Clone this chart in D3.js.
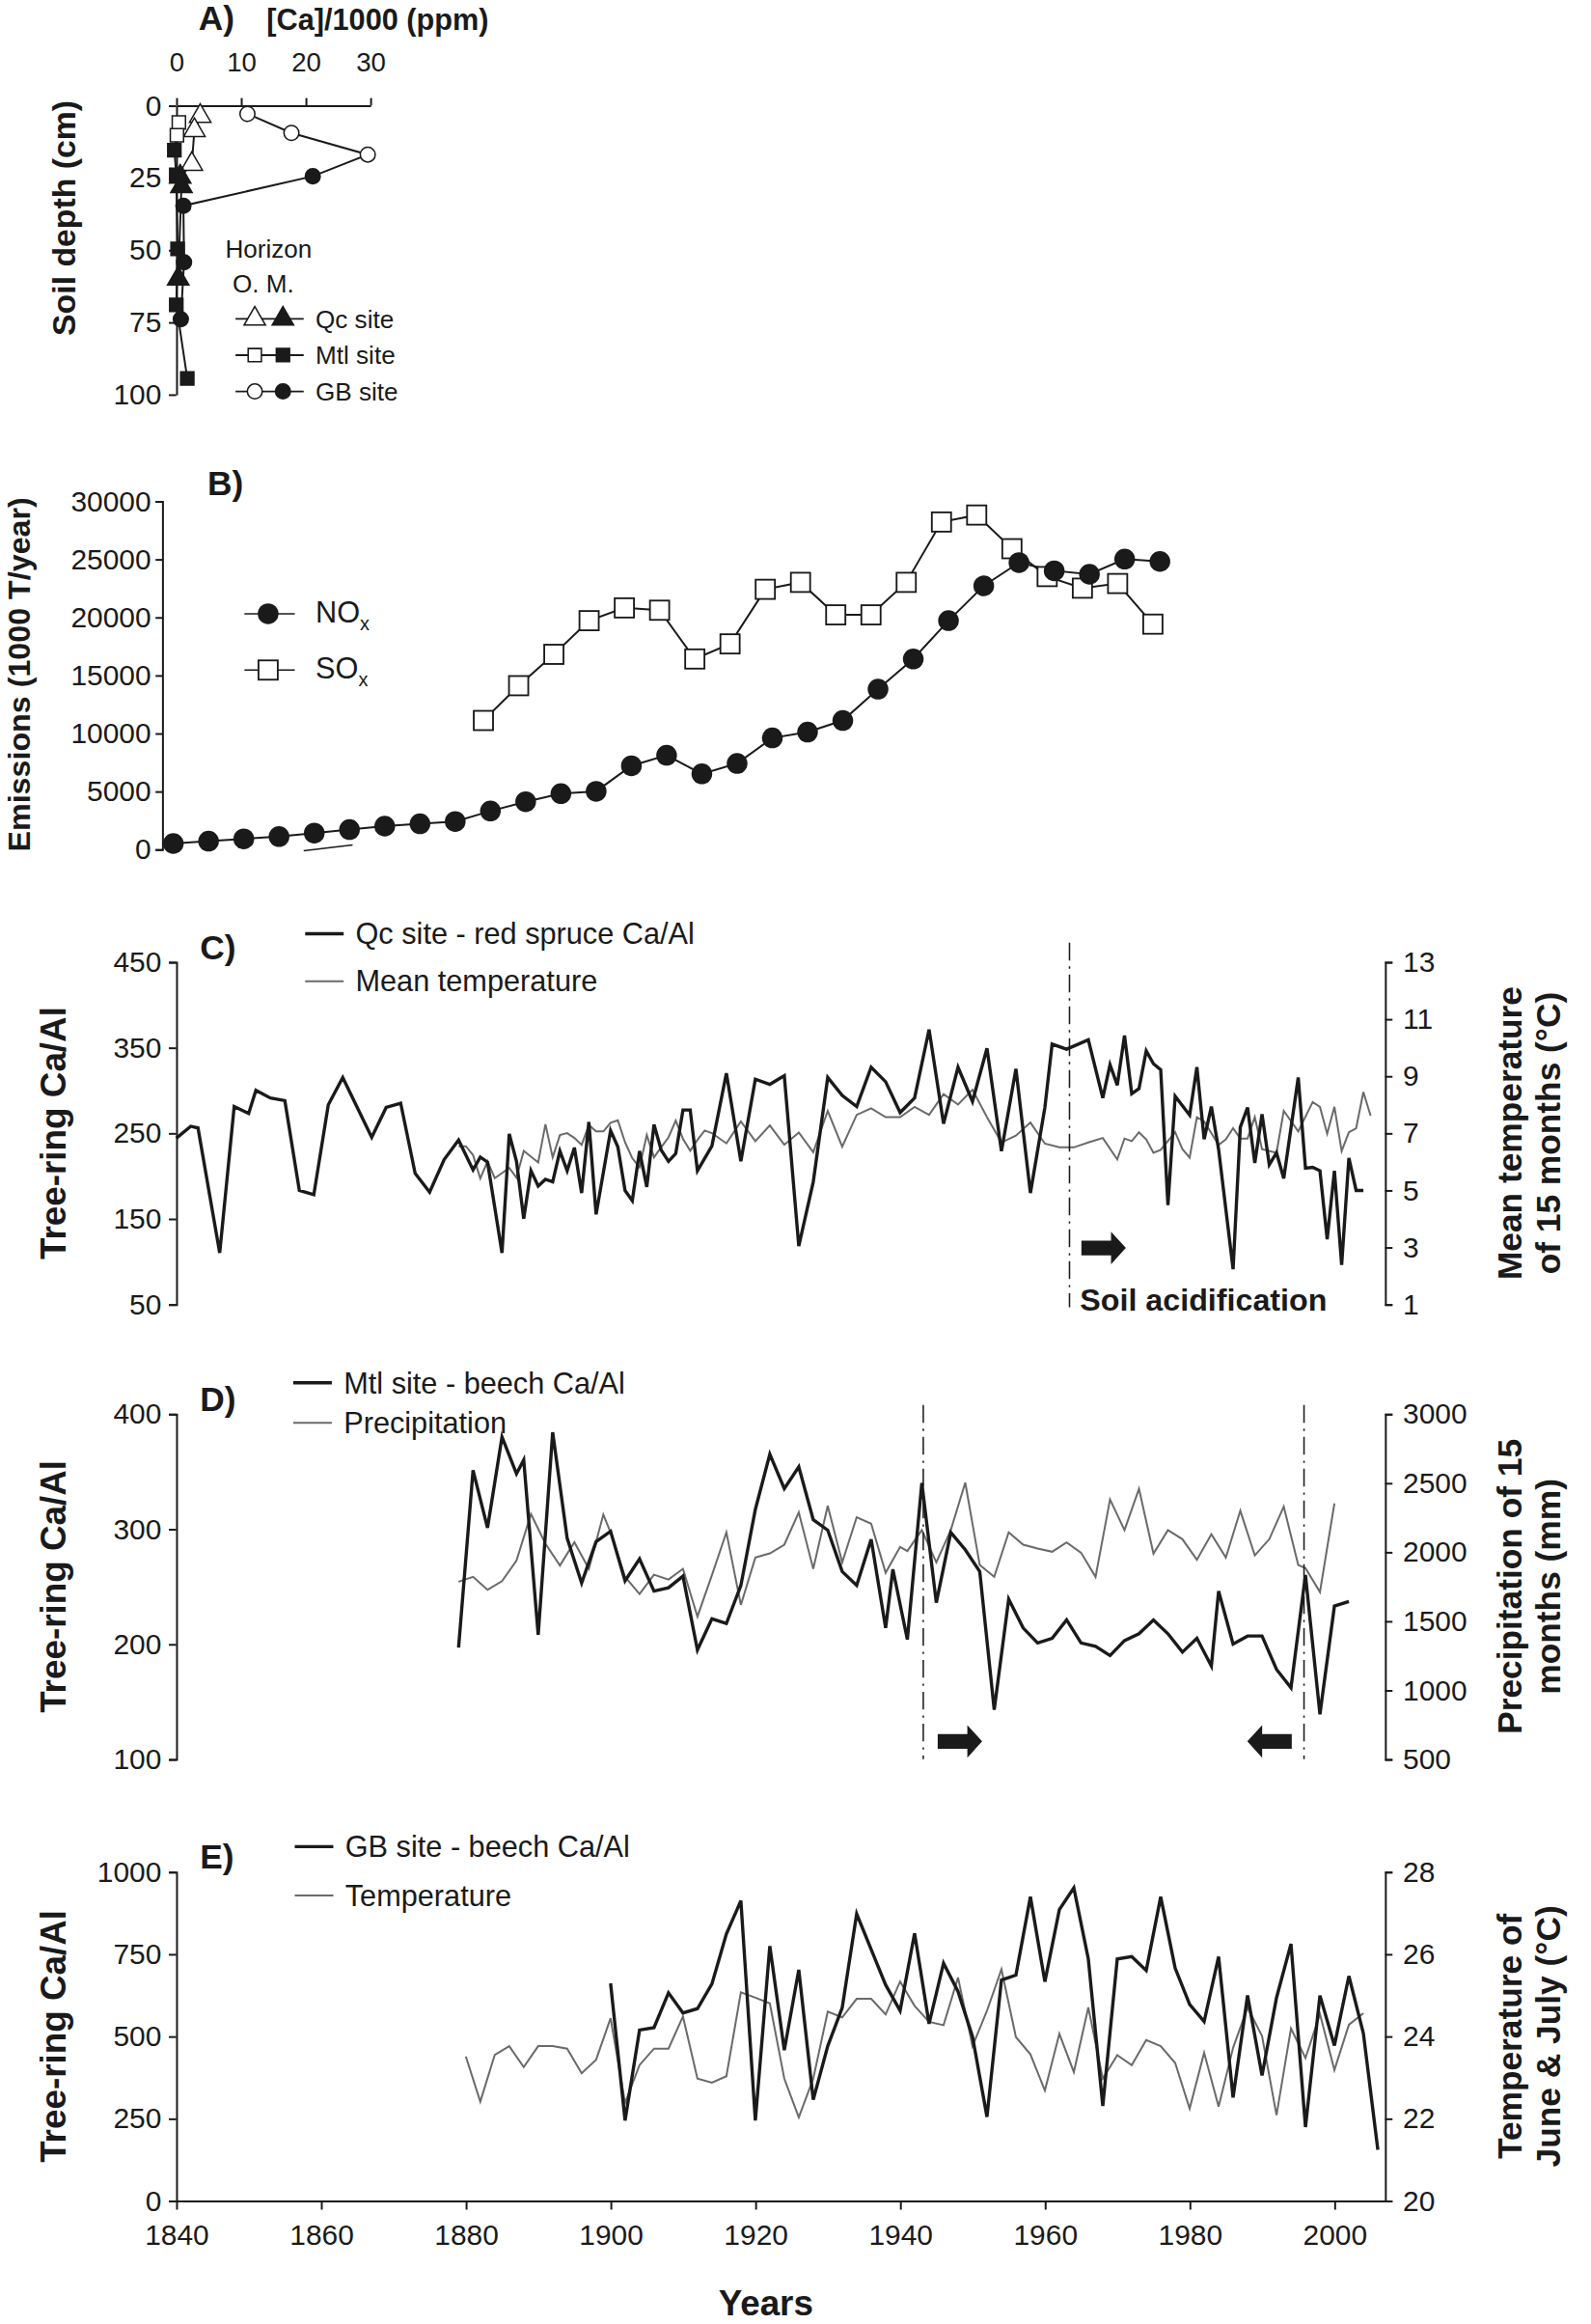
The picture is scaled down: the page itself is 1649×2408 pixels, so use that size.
<!DOCTYPE html>
<html>
<head>
<meta charset="utf-8">
<script src="https://cdn.jsdelivr.net/npm/d3@7"></script>
<style>
  body { margin: 0; background: #fff; }
  svg { font-family: "Liberation Sans", Arial, sans-serif; }
</style>
</head>
<body>
<div id="chart"></div>
<script>
// ---- panel A : soil Ca profiles [ [Ca/1000 ppm, depth cm], ... ]
var qcOpen = [[3.7, 3.7], [2.8, 8.6], [2.4, 20.3]];
var qcFilled = [[0.6, 24.7], [0.8, 28], [0.3, 60]];
var mtlOpen = [[0.4, 5.9], [0.1, 10.3]];
var mtlFilled = [[-0.3, 15.5], [0, 24], [0.2, 49.6], [0, 69], [1.7, 94.5]];
var gbOpen = [[11, 2.9], [17.8, 9.5], [29.6, 17]];
var gbFilled = [[21.1, 24.5], [1.1, 34.7], [1.2, 54.3], [0.7, 74]];
var caTicks = [0, 10, 20, 30];
var depthTicks = [0, 25, 50, 75, 100];

// ---- panel B : emissions (1000 T/year)
var noxYears = d3.range(1840, 1981, 5);
var noxValues = [500, 700, 900, 1100, 1400, 1700, 2000, 2200, 2400, 3300, 4100, 4800, 5000, 7200, 8100,
  6500, 7400, 9600, 10100, 11100, 13800, 16400, 19700, 22700, 24700, 24000, 23700, 25000, 24800];
var soxYears = d3.range(1884, 1980, 5);
var soxValues = [11100, 14100, 16800, 19700, 20800, 20600, 16400, 17700, 22400, 23000, 20200, 20200,
  23000, 28200, 28800, 25900, 23500, 22500, 22900, 19400];
var emissionTicks = [0, 5000, 10000, 15000, 20000, 25000, 30000];

// ---- panel C : Qc site red spruce Ca/Al and mean temperature of 15 months
var qcYears = [1840, 1842, 1843, 1846, 1848, 1850, 1851, 1853, 1855, 1857, 1859, 1861, 1863, 1865, 1867, 1869,
  1871, 1873, 1875, 1877, 1879, 1881, 1882, 1883, 1885, 1886, 1887, 1888, 1889, 1890, 1891, 1892, 1893, 1894,
  1895, 1896, 1897, 1898, 1900, 1901, 1902, 1903, 1904, 1905, 1906, 1907, 1908, 1909, 1910, 1911, 1912, 1914,
  1916, 1918, 1920, 1922, 1924, 1926, 1928, 1930, 1932, 1934, 1936, 1938, 1940, 1942, 1944, 1946, 1948, 1950,
  1952, 1954, 1956, 1958, 1960, 1961, 1963, 1966, 1968, 1969, 1970, 1971, 1972, 1973, 1974, 1975, 1976, 1977,
  1978, 1980, 1981, 1982, 1983, 1984, 1986, 1987, 1988, 1989, 1990, 1991, 1992, 1993, 1995, 1996, 1997, 1998,
  1999, 2000, 2001, 2002, 2003, 2004];
var qcCaAl = [244, 258, 256, 110, 281, 273, 300, 291, 288, 183, 178, 283, 315, 280, 245, 280,
  285, 203, 181, 219, 242, 207, 222, 216, 110, 249, 217, 150, 206, 188, 196, 193, 229, 206,
  233, 180, 263, 155, 253, 234, 183, 171, 229, 187, 260, 230, 217, 226, 277, 277, 206, 235,
  320, 217, 313, 307, 317, 118, 193, 315, 294, 281, 327, 310, 274, 291, 371, 261, 327, 287,
  349, 229, 325, 180, 280, 354, 348, 359, 291, 330, 306, 364, 296, 302, 346, 331, 324, 166,
  293, 271, 327, 243, 281, 231, 91, 257, 280, 215, 272, 213, 227, 197, 315, 209, 210, 206,
  126, 206, 96, 221, 183, 183, 286];
var qcTempYears = [1879, 1880, 1881, 1882, 1883, 1884, 1886, 1887, 1888, 1890, 1891, 1892, 1893, 1894, 1895,
  1896, 1897, 1898, 1899, 1900, 1901, 1902, 1903, 1904, 1905, 1906, 1907, 1908, 1909, 1910, 1911, 1912, 1913,
  1914, 1916, 1918, 1920, 1922, 1924, 1926, 1928, 1930, 1932, 1934, 1936, 1938, 1940, 1942, 1944, 1946, 1948,
  1950, 1952, 1954, 1956, 1958, 1960, 1962, 1964, 1966, 1968, 1970, 1971, 1972, 1973, 1974, 1975, 1976, 1978,
  1979, 1980, 1981, 1982, 1984, 1985, 1986, 1987, 1988, 1989, 1990, 1992, 1993, 1995, 1997, 1998, 1999, 2000,
  2001, 2002, 2003, 2004, 2005];
var qcTemp = [6.54, 6.54, 6.23, 5.41, 6.01, 5.42, 5.78, 5.44, 6.38, 5.97, 7.31, 6.15, 6.93, 7.0, 6.83,
  6.59, 7.28, 7.06, 7.06, 7.36, 7.45, 6.68, 6.12, 5.80, 6.93, 6.15, 6.51, 6.85, 7.44, 6.80, 6.38, 6.76, 7.09,
  7.0, 6.64, 7.41, 6.72, 7.27, 6.59, 7.02, 6.33, 7.78, 6.52, 7.64, 7.87, 7.56, 7.56, 7.92, 7.64, 8.37, 8.0,
  8.52, 7.56, 6.67, 6.91, 7.37, 6.63, 6.5, 6.5, 6.67, 6.83, 6.08, 6.81, 6.72, 7.03, 6.78, 6.31, 6.41, 7.03,
  6.44, 6.14, 7.56, 7.41, 6.59, 6.78, 7.17, 6.81, 6.81, 7.56, 6.44, 6.31, 7.78, 7.06, 8.09, 7.92, 6.98, 7.92,
  6.37, 7.03, 7.17, 8.44, 7.61];

// ---- panel D : Mtl site beech Ca/Al and precipitation of 15 months
var mtlYears = [1879, 1881, 1883, 1885, 1887, 1888, 1890, 1892, 1894, 1896, 1898, 1900, 1902, 1904, 1906,
  1908, 1910, 1912, 1914, 1916, 1918, 1920, 1922, 1924, 1926, 1928, 1930, 1932, 1934, 1936, 1938, 1939, 1941,
  1943, 1945, 1947, 1949, 1951, 1953, 1955, 1957, 1959, 1961, 1963, 1965, 1967, 1969, 1971, 1973, 1975, 1977,
  1979, 1981, 1983, 1984, 1986, 1988, 1990, 1992, 1994, 1996, 1998, 2000, 2002];
var mtlCaAl = [197, 351, 301, 380, 348, 360, 208, 384, 292, 253, 289, 298, 255, 274, 246,
  249, 259, 195, 222, 218, 251, 317, 365, 335, 354, 308, 299, 263, 251, 291, 214, 265, 204,
  340, 236, 297, 282, 263, 143, 239, 214, 201, 205, 221, 201, 198, 190, 203, 209, 221, 209,
  193, 205, 181, 246, 200, 207, 207, 178, 162, 260, 139, 233, 237];
var precipYears = [1879, 1881, 1883, 1885, 1887, 1889, 1891, 1893, 1895, 1897, 1899, 1900, 1902, 1904, 1906,
  1908, 1910, 1912, 1914, 1916, 1918, 1920, 1922, 1924, 1926, 1928, 1930, 1932, 1934, 1936, 1938, 1940, 1941,
  1943, 1945, 1947, 1949, 1951, 1953, 1955, 1957, 1959, 1961, 1963, 1965, 1967, 1969, 1971, 1973, 1975, 1977,
  1979, 1981, 1983, 1985, 1987, 1989, 1991, 1993, 1995, 1996, 1998, 2000];
var precip = [1785, 1820, 1726, 1789, 1937, 2275, 2060, 1902, 2070, 1878, 2271, 2142, 1820, 1696, 1836,
  1801, 1878, 1533, 1832, 2142, 1617, 1960, 1990, 2053, 2287, 1878, 2334, 1925, 2252, 2205, 1850, 2037, 2007,
  2159, 1925, 2159, 2502, 1906, 1820, 2142, 2053, 2025, 2002, 2070, 1995, 1820, 2381, 2159, 2458, 1988, 2159,
  2093, 1944, 2128, 1960, 2299, 1976, 2093, 2329, 1906, 1883, 1710, 2352];

// ---- panel E : GB site beech Ca/Al and temperature of June & July
var gbYears = [1900, 1902, 1904, 1906, 1908, 1910, 1912, 1914, 1916, 1918, 1920, 1922, 1924, 1926, 1928,
  1930, 1932, 1934, 1936, 1938, 1940, 1942, 1944, 1946, 1948, 1950, 1952, 1954, 1956, 1958, 1960, 1962, 1964,
  1966, 1968, 1970, 1972, 1974, 1976, 1978, 1980, 1982, 1984, 1986, 1988, 1990, 1992, 1994, 1996, 1998, 2000,
  2002, 2004, 2006];
var gbCaAl = [661, 244, 519, 526, 632, 571, 584, 659, 811, 912, 244, 774, 458, 702, 307,
  470, 587, 872, 764, 656, 578, 813, 538, 722, 636, 499, 255, 671, 686, 924, 666, 885, 951,
  735, 288, 735, 742, 700, 924, 707, 597, 545, 742, 314, 624, 381, 617, 781, 224, 624, 472,
  683, 509, 155];
var gbTempYears = [1880, 1882, 1884, 1886, 1888, 1890, 1892, 1894, 1896, 1898, 1900, 1902, 1904, 1906, 1908,
  1910, 1912, 1914, 1916, 1918, 1920, 1922, 1924, 1926, 1928, 1930, 1932, 1934, 1936, 1938, 1940, 1942, 1944,
  1946, 1948, 1950, 1952, 1954, 1956, 1958, 1960, 1962, 1964, 1966, 1968, 1970, 1972, 1974, 1976, 1978, 1980,
  1982, 1984, 1986, 1988, 1990, 1992, 1994, 1996, 1998, 2000, 2002, 2004];
var gbTemp = [23.51, 22.41, 23.55, 23.76, 23.25, 23.76, 23.76, 23.70, 23.10, 23.43, 24.44, 22.38, 23.30, 23.70, 23.70,
  24.48, 22.97, 22.87, 23.03, 25.07, 24.94, 24.80, 22.97, 22.03, 22.97, 24.60, 24.46, 24.91, 24.91, 24.53, 25.33,
  24.74, 24.35, 24.27, 25.43, 23.76, 24.62, 25.63, 23.98, 23.56, 22.68, 24.06, 23.13, 24.70, 22.97, 23.54, 23.30,
  23.91, 23.76, 23.35, 22.24, 23.60, 22.29, 23.72, 24.70, 24.01, 22.08, 24.19, 23.47, 24.54, 23.18, 24.28, 24.56];
var yearTicks = [1840, 1860, 1880, 1900, 1920, 1940, 1960, 1980, 2000];

var W = 1074, H = 1568;
var svg = d3.select("#chart").append("svg")
  .attr("width", 1649).attr("height", 2408)
  .attr("viewBox", "0 0 " + W + " " + H);

var black = "#1a1a1a", gray = "#6a6a6a";
var tickFont = 19.5;

function zip(xs, ys) { return xs.map(function(x, i) { return [x, ys[i]]; }); }

function styleAxis(g, size) {
  g.selectAll("path, line").attr("stroke", black).attr("stroke-width", 1.3);
  g.selectAll("text").attr("font-size", size || tickFont).attr("fill", black)
    .attr("font-family", "Liberation Sans, Arial, sans-serif");
}

function rotText(x, y, lines, size) {
  var t = svg.append("text").attr("transform", "translate(" + x + "," + y + ") rotate(-90)")
    .attr("text-anchor", "middle").attr("font-weight", "bold").attr("font-size", size || 22).attr("fill", black);
  lines.forEach(function(s, i) {
    t.append("tspan").attr("x", 0).attr("dy", i === 0 ? 0 : "1.15em").text(s);
  });
}

function label(x, y, s, opts) {
  opts = opts || {};
  return svg.append("text").attr("x", x).attr("y", y).text(s)
    .attr("font-size", opts.size || 20).attr("font-weight", opts.bold ? "bold" : "normal")
    .attr("fill", black).attr("text-anchor", opts.anchor || "start");
}

// =================== A ===================
var ax = d3.scaleLinear().domain([0, 30]).range([119, 250]);
var ay = d3.scaleLinear().domain([0, 100]).range([71, 266]);
var gA = svg.append("g");
gA.append("g").attr("transform", "translate(0,71)")
  .call(d3.axisTop(ax).tickValues(caTicks).tickSize(5).tickSizeOuter(0)).call(styleAxis, 18)
  .selectAll("text").attr("dy", "-0.5em").attr("y", -14);
gA.append("g").attr("transform", "translate(119,0)")
  .call(d3.axisLeft(ay).tickValues(depthTicks).tickSize(5).tickSizeOuter(0)).call(styleAxis)
  .selectAll("text").attr("x", -10);
label(134, 20, "A)", {bold: true, size: 23});
label(180, 20, "[Ca]/1000 (ppm)", {bold: true, size: 20});
rotText(51, 147, ["Soil depth (cm)"], 22);

var aLine = d3.line().x(function(d) { return ax(d[0]); }).y(function(d) { return ay(d[1]); });
function profile(open, filled, shape) {
  gA.append("path").datum(open.concat(filled)).attr("d", aLine)
    .attr("fill", "none").attr("stroke", black).attr("stroke-width", 1.3);
  var sym = d3.symbol().type(shape).size(shape === d3.symbolTriangle ? 90 : 80);
  gA.selectAll(null).data(open.map(function(d) { return [d, "#fff"]; })
      .concat(filled.map(function(d) { return [d, black]; })))
    .enter().append("path")
    .attr("transform", function(d) { return "translate(" + ax(d[0][0]) + "," + ay(d[0][1]) + ")"; })
    .attr("d", sym).attr("fill", function(d) { return d[1]; })
    .attr("stroke", black).attr("stroke-width", 1);
}
profile(qcOpen, qcFilled, d3.symbolTriangle);
profile(mtlOpen, mtlFilled, d3.symbolSquare);
profile(gbOpen, gbFilled, d3.symbolCircle);

label(152, 174, "Horizon", {size: 17});
label(157, 197, "O. M.", {size: 17});
[["Qc site", d3.symbolTriangle, 90], ["Mtl site", d3.symbolSquare, 80], ["GB site", d3.symbolCircle, 80]]
  .forEach(function(r, i) {
    var y = 215 + i * 24.5;
    svg.append("line").attr("x1", 159).attr("x2", 205).attr("y1", y).attr("y2", y)
      .attr("stroke", black).attr("stroke-width", 1.2);
    [[172, "#fff"], [191, black]].forEach(function(p) {
      svg.append("path").attr("transform", "translate(" + p[0] + "," + y + ")")
        .attr("d", d3.symbol().type(r[1]).size(r[2])).attr("fill", p[1]).attr("stroke", black);
    });
    label(213, y + 6, r[0], {size: 17});
  });

// =================== B ===================
var bx = d3.scaleLinear().domain([1840, 1980]).range([117, 783]);
var by = d3.scaleLinear().domain([0, 30000]).range([573, 338]);
svg.append("g").attr("transform", "translate(110,0)")
  .call(d3.axisLeft(by).tickValues(emissionTicks).tickFormat(d3.format("d")).tickSize(5).tickSizeOuter(0))
  .call(styleAxis).select(".domain").attr("d", "M-5,573.5H0V338.5H-5");
svg.append("line").attr("x1", 205).attr("x2", 238).attr("y1", 574).attr("y2", 570)
  .attr("stroke", black).attr("stroke-width", 1);
label(140, 334, "B)", {bold: true, size: 23});
rotText(20, 455, ["Emissions (1000 T/year)"], 21);
var bLine = d3.line().x(function(d) { return bx(d[0]); }).y(function(d) { return by(d[1]); });
var soxData = zip(soxYears, soxValues), noxData = zip(noxYears, noxValues);
svg.append("path").datum(soxData).attr("d", bLine).attr("fill", "none").attr("stroke", black).attr("stroke-width", 1.3);
svg.append("path").datum(noxData).attr("d", bLine).attr("fill", "none").attr("stroke", black).attr("stroke-width", 1.3);
svg.selectAll(".sox").data(soxData).enter().append("rect")
  .attr("x", function(d) { return bx(d[0]) - 6.5; }).attr("y", function(d) { return by(d[1]) - 6.5; })
  .attr("width", 13).attr("height", 13).attr("fill", "#fff").attr("stroke", black).attr("stroke-width", 1.2);
svg.selectAll(".nox").data(noxData).enter().append("circle")
  .attr("cx", function(d) { return bx(d[0]); }).attr("cy", function(d) { return by(d[1]); })
  .attr("r", 7).attr("fill", black);
// legend B
svg.append("line").attr("x1", 165).attr("x2", 199).attr("y1", 414).attr("y2", 414).attr("stroke", black);
svg.append("circle").attr("cx", 181).attr("cy", 414).attr("r", 7).attr("fill", black);
svg.append("line").attr("x1", 165).attr("x2", 199).attr("y1", 452).attr("y2", 452).attr("stroke", black);
svg.append("rect").attr("x", 174.5).attr("y", 445.5).attr("width", 13).attr("height", 13)
  .attr("fill", "#fff").attr("stroke", black).attr("stroke-width", 1.2);
var tn = label(213, 420, "NO", {size: 20});
tn.append("tspan").attr("font-size", 13).attr("dy", 5).text("x");
var ts = label(213, 458, "SO", {size: 20});
ts.append("tspan").attr("font-size", 13).attr("dy", 5).text("x");

// =================== C, D, E (time series with two y-axes) ===================
var tx = d3.scaleLinear().domain([1840, 2007]).range([119, 935]);

function panel(cfg) {
  var yl = d3.scaleLinear().domain(cfg.left).range([cfg.bottom, cfg.top]);
  var yr = d3.scaleLinear().domain(cfg.right).range([cfg.bottom, cfg.top]);
  svg.append("g").attr("transform", "translate(119,0)")
    .call(d3.axisLeft(yl).tickValues(cfg.leftTicks).tickFormat(d3.format("d")).tickSize(5).tickSizeOuter(5))
    .call(styleAxis).selectAll("text").attr("x", -10);
  svg.append("g").attr("transform", "translate(935,0)")
    .call(d3.axisRight(yr).tickValues(cfg.rightTicks).tickFormat(d3.format("d")).tickSize(5).tickSizeOuter(5))
    .call(styleAxis).selectAll("text").attr("x", 12);
  svg.append("path").datum(zip(cfg.gYears, cfg.gVals))
    .attr("d", d3.line().x(function(d) { return tx(d[0]); }).y(function(d) { return yr(d[1]); }))
    .attr("fill", "none").attr("stroke", gray).attr("stroke-width", 1.3);
  svg.append("path").datum(zip(cfg.bYears, cfg.bVals))
    .attr("d", d3.line().x(function(d) { return tx(d[0]); }).y(function(d) { return yl(d[1]); }))
    .attr("fill", "none").attr("stroke", black).attr("stroke-width", 2.2).attr("stroke-linejoin", "miter");
  label(135, cfg.top - 2, cfg.tag, {bold: true, size: 23});
  svg.append("line").attr("x1", cfg.legX - 34).attr("x2", cfg.legX - 8).attr("y1", cfg.legY[0]).attr("y2", cfg.legY[0])
    .attr("stroke", black).attr("stroke-width", 2.2);
  label(cfg.legX, cfg.legY[0] + 7, cfg.bName);
  svg.append("line").attr("x1", cfg.legX - 34).attr("x2", cfg.legX - 8).attr("y1", cfg.legY[1]).attr("y2", cfg.legY[1])
    .attr("stroke", gray).attr("stroke-width", 1.3);
  label(cfg.legX, cfg.legY[1] + 7, cfg.gName);
  var mid = (cfg.top + cfg.bottom) / 2;
  rotText(44, mid, ["Tree-ring Ca/Al"], 24);
  rotText(1027, mid, cfg.rightTitle, 23);
}

function dash(year, y1, y2) {
  svg.append("line").attr("x1", tx(year)).attr("x2", tx(year)).attr("y1", y1).attr("y2", y2)
    .attr("stroke", black).attr("stroke-width", 1).attr("stroke-dasharray", "12,4,1.5,4");
}
function arrow(x, y, dir) {
  var p = dir > 0 ? "M0,-5H20V-11L30,0L20,11V5H0Z" : "M30,-5H10V-11L0,0L10,11V5H30Z";
  svg.append("path").attr("transform", "translate(" + x + "," + y + ")").attr("d", p).attr("fill", black);
}

panel({tag: "C)", top: 649, bottom: 880, left: [50, 450], right: [1, 13],
  leftTicks: [50, 150, 250, 350, 450], rightTicks: [1, 3, 5, 7, 9, 11, 13],
  bYears: qcYears, bVals: qcCaAl, gYears: qcTempYears, gVals: qcTemp,
  bName: "Qc site - red spruce Ca/Al", gName: "Mean temperature", legX: 240, legY: [630, 662],
  rightTitle: ["Mean temperature", "of 15 months (°C)"]});
dash(1963.4, 636, 882);
arrow(730, 842, 1);
label(729, 884, "Soil acidification", {bold: true, size: 21});

panel({tag: "D)", top: 954, bottom: 1187, left: [100, 400], right: [500, 3000],
  leftTicks: [100, 200, 300, 400], rightTicks: [500, 1000, 1500, 2000, 2500, 3000],
  bYears: mtlYears, bVals: mtlCaAl, gYears: precipYears, gVals: precip,
  bName: "Mtl site - beech Ca/Al", gName: "Precipitation", legX: 232, legY: [933, 960],
  rightTitle: ["Precipitation of 15", "months (mm)"]});
dash(1943.2, 948, 1187);
dash(1995.8, 948, 1187);
arrow(633, 1175, 1);
arrow(842, 1175, -1);

panel({tag: "E)", top: 1263, bottom: 1485, left: [0, 1000], right: [20, 28],
  leftTicks: [0, 250, 500, 750, 1000], rightTicks: [20, 22, 24, 26, 28],
  bYears: gbYears, bVals: gbCaAl, gYears: gbTempYears, gVals: gbTemp,
  bName: "GB site - beech Ca/Al", gName: "Temperature", legX: 233, legY: [1246, 1279],
  rightTitle: ["Temperature of", "June & July (°C)"]});
svg.append("g").attr("transform", "translate(0,1485)")
  .call(d3.axisBottom(tx).tickValues(yearTicks).tickFormat(d3.format("d")).tickSize(6).tickSizeOuter(0))
  .call(styleAxis).selectAll("text").attr("y", 16);
label(517, 1562, "Years", {bold: true, size: 24, anchor: "middle"});
</script>
</body>
</html>
